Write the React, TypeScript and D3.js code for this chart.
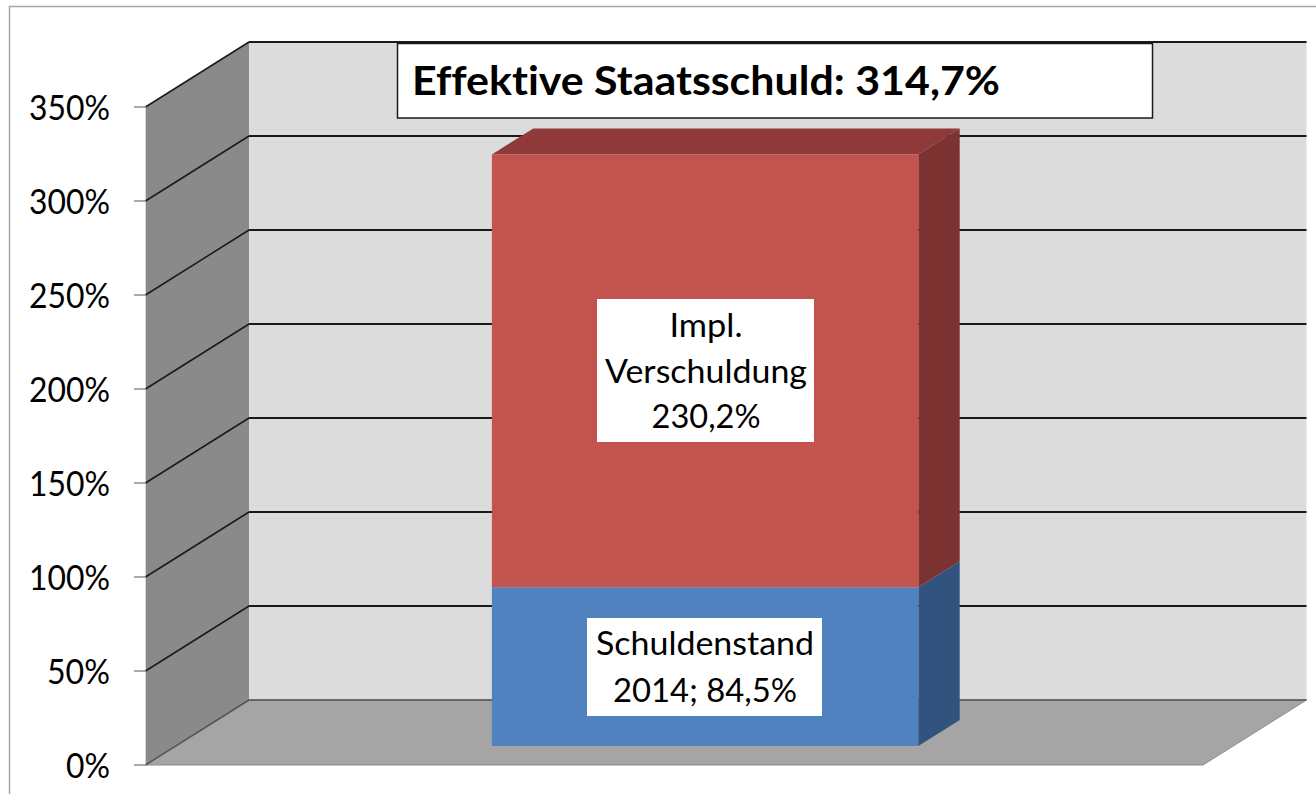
import React from "react";
import * as d3 from "d3";

const categories = ["2014"];
const seriesNames = ["Schuldenstand 2014", "Impl. Verschuldung"];
const debtValues = [84.5];
const implicitValues = [230.2];
const tickValues = [0, 50, 100, 150, 200, 250, 300, 350];
const titleText = "Effektive Staatsschuld: 314,7%";
const implLines = ["Impl.", "Verschuldung", "230,2%"];
const debtLines = ["Schuldenstand", "2014; 84,5%"];

const FONT = "Lato, 'Open Sans', sans-serif";
const yScale = d3.scaleLinear().domain([0, 350]).range([765, 107]);
const xScale = d3.scaleLinear().domain([0, 1]).range([145.5, 1203]);
const depthX = d3.scaleLinear().domain([0, 1]).range([0, 103.5]);
const depthY = d3.scaleLinear().domain([0, 1]).range([0, -65]);
const band = d3.scaleBand().domain(categories).range([0, 1]).paddingInner(0).paddingOuter(0.74).align(0.501);

const proj = (fx: number, v: number, d: number): [number, number] => [
  xScale(fx) + depthX(d),
  yScale(v) + depthY(d),
];
const poly = (pts: [number, number][]) => d3.line()(pts)! + "Z";

const barFront = 0.292;
const barBack = 0.692;

function Box({ x, y, w, h, lines, lh, base, widths }: { x: number; y: number; w: number; h: number; lines: string[]; lh: number; base: number; widths: number[] }) {
  return (
    <g>
      <rect x={x} y={y} width={w} height={h} fill="#fff" />
      {lines.map((t, i) => (
        <text key={t} x={x + w / 2 + 0.5} y={base + i * lh} textAnchor="middle" fontFamily={FONT} fontSize={33.5} fill="#000" textLength={widths[i]} lengthAdjust="spacingAndGlyphs" style={{ fontVariantLigatures: "none" }}>
          {t}
        </text>
      ))}
    </g>
  );
}

function Bar({ fx0, fx1, v0, v1, front, side, top }: { fx0: number; fx1: number; v0: number; v1: number; front: string; side: string; top?: string }) {
  return (
    <g>
      {top && <path d={poly([proj(fx0, v1, barFront), proj(fx1, v1, barFront), proj(fx1, v1, barBack), proj(fx0, v1, barBack)])} fill={top} />}
      <path d={poly([proj(fx1, v0, barFront), proj(fx1, v0, barBack), proj(fx1, v1, barBack), proj(fx1, v1, barFront)])} fill={side} />
      <path d={poly([proj(fx0, v0, barFront), proj(fx1, v0, barFront), proj(fx1, v1, barFront), proj(fx0, v1, barFront)])} fill={front} />
    </g>
  );
}

export default function App() {
  const fx0 = band(categories[0])!;
  const fx1 = fx0 + band.bandwidth();
  const debt = debtValues[0];
  const total = debt + implicitValues[0];
  return (
    <svg width={1316} height={794} viewBox="0 0 1316 794" style={{ position: "absolute", left: 0, top: 0, display: "block", background: "#fff" }} aria-label={seriesNames.join(", ")}>
      <path d="M1316 6.5H9.5V794" fill="none" stroke="#a6a6a6" strokeWidth={1.5} />
      {/* walls */}
      <path d={poly([proj(1, 0, 1), proj(0, 0, 1), proj(0, 350, 1), proj(1, 350, 1)].map(([x, y], i) => (i === 0 || i === 3 ? [1306.5, y] : [x, y])) as [number, number][])} fill="#dcdcdc" />
      <path d={poly([proj(0, 0, 0), proj(0, 0, 1), proj(0, 350, 1), proj(0, 350, 0)])} fill="#8a8a8a" />
      <path d={poly([proj(0, 0, 0), proj(1, 0, 0), proj(1, 0, 1), proj(0, 0, 1)])} fill="#a5a5a5" stroke="#8c8c8c" strokeWidth={1} />
      <line x1={145.5} x2={145.5} y1={107} y2={765} stroke="#d9d9d9" strokeWidth={1} />
      {/* grid */}
      {tickValues.map((t) => {
        const a = proj(0, t, 0);
        const b = proj(0, t, 1);
        const dark = t === 0 ? "#555" : "#1a1a1a";
        const label = `${t}%`;
        return (
          <g key={t}>
            <line x1={a[0]} y1={a[1]} x2={b[0]} y2={b[1]} stroke={dark} strokeWidth={1.5} />
            <line x1={b[0]} y1={b[1]} x2={1306.5} y2={b[1]} stroke={dark} strokeWidth={t === 0 ? 1.5 : 2} />
            <line x1={134} x2={a[0]} y1={a[1]} y2={a[1]} stroke="#8c8c8c" strokeWidth={1.5} />
            <text x={110} y={a[1] + 13} textAnchor="end" fontFamily={FONT} fontSize={34.5} fill="#000" textLength={label.length === 4 ? 81 : label.length === 3 ? 63 : 44} lengthAdjust="spacingAndGlyphs">
              {label}
            </text>
          </g>
        );
      })}
      {/* bars */}
      <Bar fx0={fx0} fx1={fx1} v0={0} v1={debt} front="#5082c0" side="#32537d" />
      <Bar fx0={fx0} fx1={fx1} v0={debt} v1={total} front="#c3534f" side="#7b3230" top="#8f3a38" />
      <Box x={597} y={299} w={217} h={143} lines={implLines} lh={45.5} base={337} widths={[73, 202, 109]} />
      <Box x={587} y={618} w={235} h={98} lines={debtLines} lh={47} base={655} widths={[218, 184]} />
      <rect x={397.5} y={43.5} width={755} height={74.5} fill="#fff" stroke="#1a1a1a" strokeWidth={1.5} />
      <text x={412} y={94.5} fontFamily={FONT} fontWeight={700} fontSize={41} fill="#000" textLength={588} lengthAdjust="spacingAndGlyphs" style={{ fontVariantLigatures: "none" }}>
        {titleText}
      </text>
    </svg>
  );
}
